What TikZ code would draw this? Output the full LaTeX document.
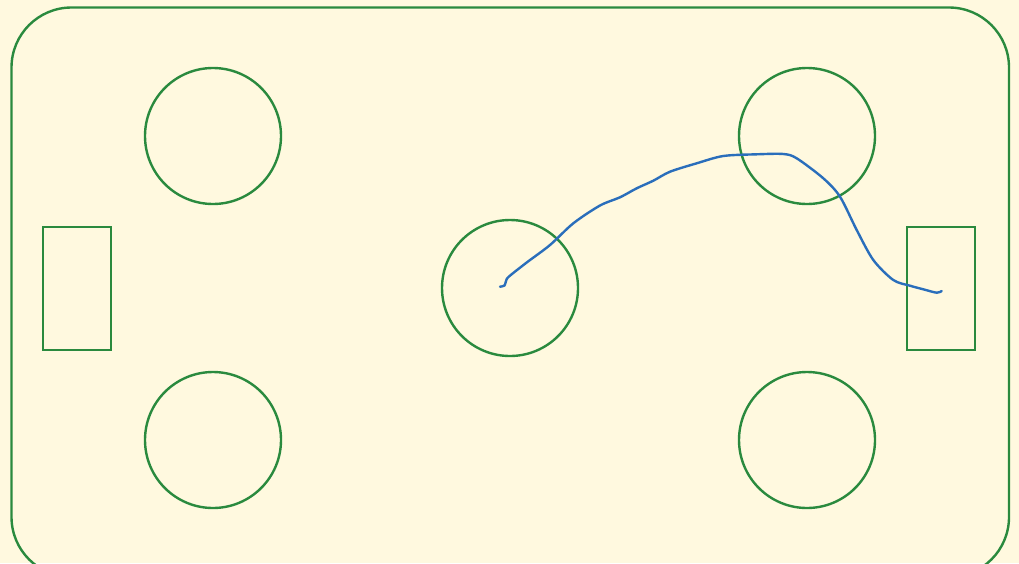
\documentclass[tikz,border=0pt]{standalone}
\definecolor{bg}{HTML}{FFF9DF}
\definecolor{fieldgreen}{HTML}{2A8A3E}
\definecolor{pathblue}{HTML}{2A6EBB}
\begin{document}
\begin{tikzpicture}[x=1pt,y=-1pt,
  ring/.style={draw=fieldgreen,line width=2.4pt,circle,minimum size=136pt,inner sep=0pt},
  goalbox/.style={draw=fieldgreen,line width=2.4pt,rectangle,minimum width=68pt,minimum height=123pt,inner sep=0pt},
  border/.style={draw=fieldgreen,line width=2.4pt,rounded corners=60pt},
  route/.style={draw=pathblue,line width=2.4pt,line cap=round,line join=round}]
\useasboundingbox (0,0) rectangle (1019,563);
\fill[bg] (0,0) rectangle (1019,563);
\begin{scope}
\clip (0,0) rectangle (1019,563);
\draw[border] (11.5,7.5) rectangle (1009,577);
\node[ring] (c1) at (213,136) {};
\node[ring] (c2) at (807,136) {};
\node[ring] (c3) at (510,288) {};
\node[ring] (c4) at (213,440) {};
\node[ring] (c5) at (807,440) {};
\node[goalbox] (gl) at (77,288.5) {};
\node[goalbox] (gr) at (941,288.5) {};
\draw[route] plot[smooth,tension=0.5] coordinates{
 (500,286.7) (504.5,285.5) (506,281) (509,276.5) (526.7,262.5) (550,245)
 (573.3,223.3) (600,205.5) (620,197.3) (636.7,188.3) (653.3,180.7)
 (670,171.7) (696.7,163.3) (723.3,156) (756.7,154.3) (783.3,154)
 (796.7,158.3) (823.3,178.3) (840,196.7) (856.7,230) (873.3,260)
 (893.3,280) (910,285.7) (923.3,289.3) (936.7,292.7) (941.7,291)};
\end{scope}
\end{tikzpicture}
\end{document}
